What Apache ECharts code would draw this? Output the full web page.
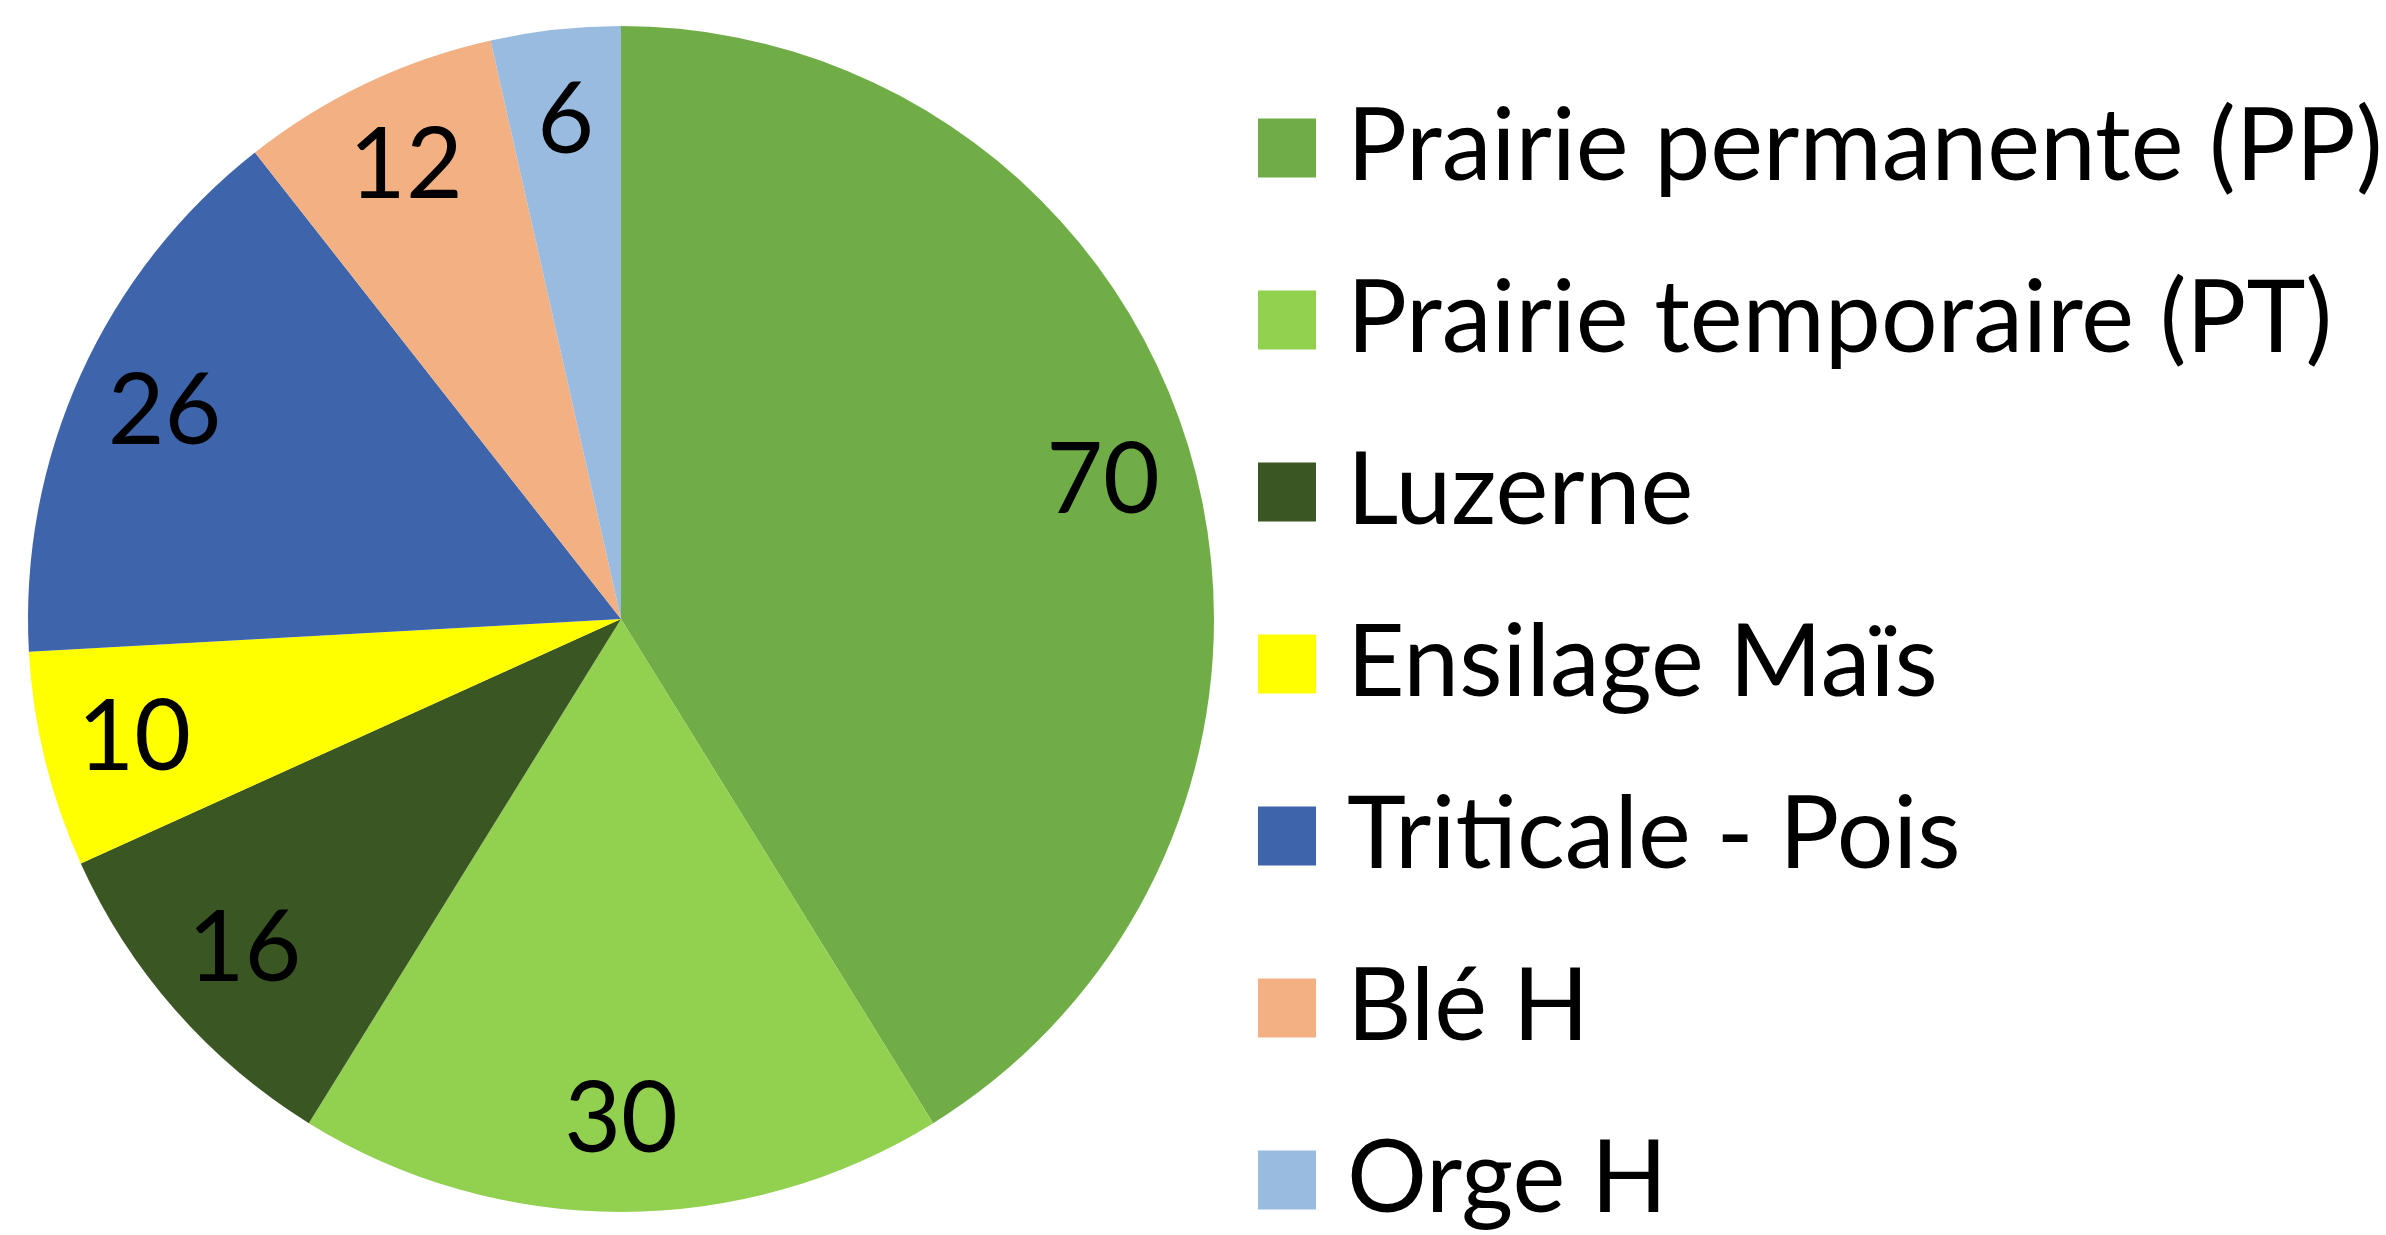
<!DOCTYPE html>
<html>
<head lang="fr">
    <meta charset="UTF-8">
    <title>Assolement</title>
    <style>
        html, body { margin: 0; padding: 0; background: #fff; }
    </style>
</head>
<body>
<div id="camembert" style="width: 2386px;height: 1235px;"></div>
<script src="https://cdn.jsdelivr.net/npm/echarts@6/dist/echarts.min.js"></script>
<script>
// cultures et surfaces
var cultures = ['Prairie permanente (PP)', 'Prairie temporaire (PT)', 'Luzerne', 'Ensilage Maïs', 'Triticale - Pois', 'Blé H', 'Orge H'];
var surfaces = [70, 30, 16, 10, 26, 12, 6];
var couleurs = ['#70AD47', '#92D050', '#3A5623', '#FFFF00', '#3E64AB', '#F3B183', '#9ABBE0'];

var chart = echarts.init(document.getElementById('camembert'));

var donnees = cultures.map(function (c, i) {
    return { name: c, value: surfaces[i], itemStyle: { color: couleurs[i] } };
});

var police = 'Lato';
var R = 593;

var option = {
    animation: false,
    backgroundColor: '#fff',
    legend: {
        orient: 'vertical',
        left: 1258,
        top: 98,
        height: 1200,
        padding: 0,
        icon: 'rect',
        itemWidth: 58,
        itemHeight: 59,
        itemGap: 72,
        data: cultures,
        textStyle: {
            fontFamily: police,
            fontSize: 100,
            lineHeight: 100,
            color: '#000',
            padding: [0, 0, 0, 26]
        }
    },
    series: [
        {
            name: 'surfaces',
            type: 'pie',
            center: [621, 619],
            radius: [0, R],
            startAngle: 90,
            clockwise: true,
            label: { show: false },
            labelLine: { show: false },
            itemStyle: { borderWidth: 0 },
            emphasis: { disabled: true },
            data: donnees
        },
        {
            // anneau invisible pour placer les étiquettes vers l'extérieur
            name: 'etiquettes',
            type: 'pie',
            silent: true,
            center: [621, 619],
            radius: [R * 0.68, R],
            startAngle: 90,
            clockwise: true,
            itemStyle: { color: 'rgba(0,0,0,0)', borderWidth: 0 },
            label: {
                show: true,
                position: 'inside',
                formatter: '{c}',
                fontFamily: police,
                fontSize: 98,
                color: '#000'
            },
            labelLine: { show: false },
            emphasis: { disabled: true },
            data: surfaces.map(function (v, i) { return { name: cultures[i] + ' ', value: v }; })
        }
    ]
};

chart.setOption(option);
</script>
</body>
</html>
